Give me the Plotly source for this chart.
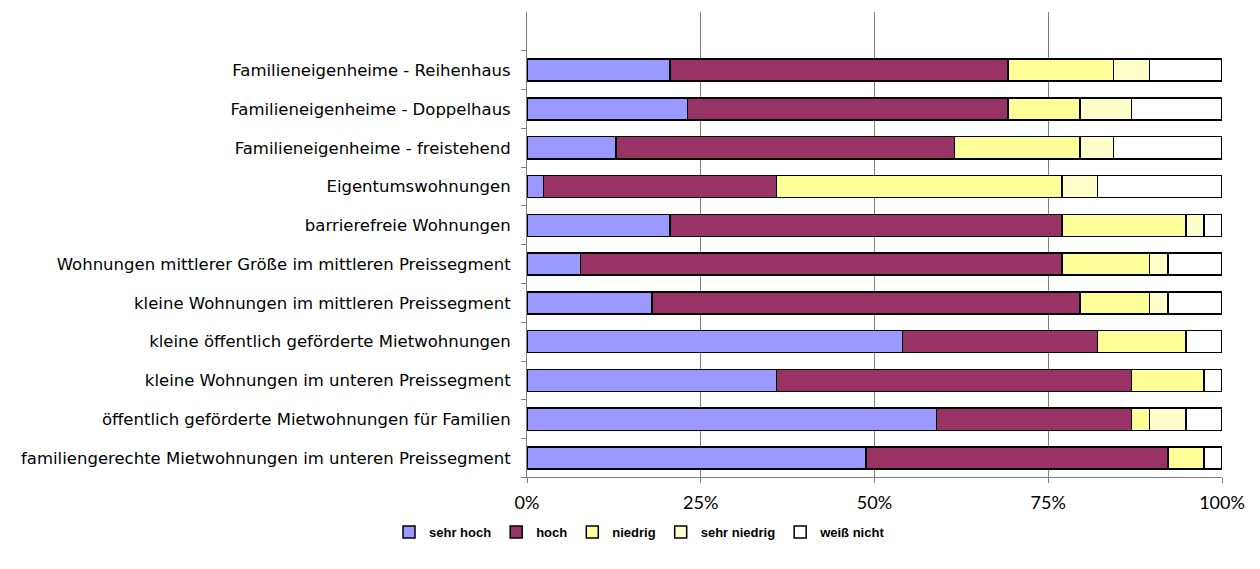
import plotly.graph_objects as go

categories = [
    "familiengerechte Mietwohnungen im unteren Preissegment",
    "öffentlich geförderte Mietwohnungen für Familien",
    "kleine Wohnungen im unteren Preissegment",
    "kleine öffentlich geförderte Mietwohnungen",
    "kleine Wohnungen im mittleren Preissegment",
    "Wohnungen mittlerer Größe im mittleren Preissegment",
    "barrierefreie Wohnungen",
    "Eigentumswohnungen",
    "Familieneigenheime - freistehend",
    "Familieneigenheime - Doppelhaus",
    "Familieneigenheime - Reihenhaus",
]

sehr_hoch    = [48.8, 58.9, 35.9, 54.0, 18.0, 7.7, 20.6, 2.4, 12.8, 23.1, 20.6]
hoch         = [43.4, 28.1, 51.1, 28.1, 61.6, 69.3, 56.4, 33.5, 48.7, 46.1, 48.6]
niedrig      = [5.2, 2.6, 10.4, 12.7, 10.0, 12.6, 17.8, 41.1, 18.1, 10.4, 15.2]
sehr_niedrig = [0.0, 5.2, 0.0, 0.0, 2.6, 2.6, 2.6, 5.1, 4.8, 7.4, 5.2]
weiss_nicht  = [2.6, 5.2, 2.6, 5.2, 7.8, 7.8, 2.6, 17.9, 15.6, 13.0, 10.4]

series = [
    ("sehr hoch", sehr_hoch, "#9999FF"),
    ("hoch", hoch, "#993366"),
    ("niedrig", niedrig, "#FFFF99"),
    ("sehr niedrig", sehr_niedrig, "#FFFFCC"),
    ("weiß nicht", weiss_nicht, "#FFFFFF"),
]

x_ticks = [0, 25, 50, 75, 100]
x_tick_labels = ["0%", "25%", "50%", "75%", "100%"]

fig = go.Figure()
for name, vals, color in series:
    fig.add_trace(go.Bar(
        name=name, y=categories, x=vals, orientation="h",
        marker=dict(color=color, line=dict(color="#000000", width=1.5)),
    ))

W, H = 1252, 561
fig.update_layout(
    barmode="stack",
    bargap=0.43,
    width=W, height=H,
    margin=dict(l=519, r=38, t=4, b=86),
    paper_bgcolor="white", plot_bgcolor="white",
    font=dict(family="Liberation Sans, Arial, sans-serif", color="#000000", size=15),
    showlegend=True,
    legend=dict(
        orientation="h", xref="container", yref="container",
        x=632 / W, xanchor="center", y=(H - 524) / H, yanchor="middle",
        font=dict(size=13, weight="bold"), traceorder="normal",
        itemwidth=30, tracegroupgap=0,
    ),
    xaxis=dict(
        range=[0, 100], tickvals=x_ticks, ticktext=x_tick_labels,
        showgrid=True, gridcolor="#808080", gridwidth=1,
        showline=True, linecolor="#808080", linewidth=1,
        ticks="outside", ticklen=5, tickcolor="#808080",
        tickfont=dict(size=18, family="Lato, Open Sans, sans-serif"), zeroline=False,
        ticklabelstandoff=4,
    ),
    yaxis=dict(
        type="category", categoryorder="array", categoryarray=categories,
        range=[-0.5, len(categories) + 0.5],
        showline=True, linecolor="#808080", linewidth=1,
        ticks="outside", ticklen=5, tickcolor="#808080", tickson="boundaries",
        showgrid=False, tickfont=dict(size=16.5, family="DejaVu Sans, sans-serif"),
        ticklabelstandoff=12,
    ),
)

fig.write_html("out.html")
